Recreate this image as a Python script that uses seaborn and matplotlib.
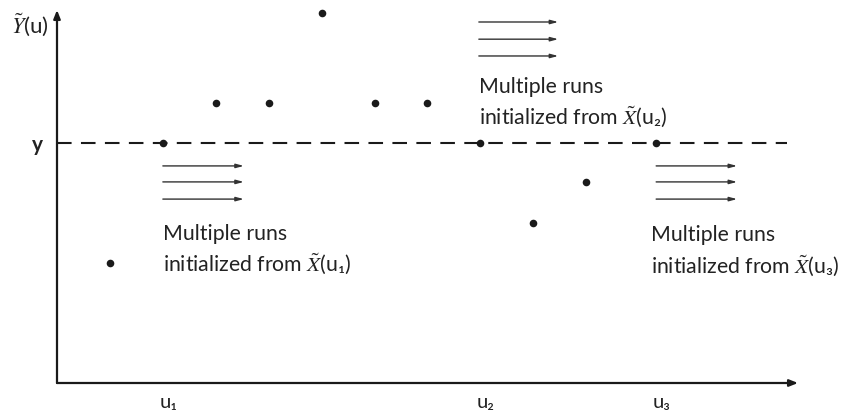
import matplotlib
matplotlib.use("Agg")
import matplotlib.pyplot as plt
import seaborn as sns

# sample points (u index, response value)
point_u = [1, 2, 3, 4, 5, 6, 7, 8, 9, 10, 11.32]
point_y = [3.0, 6.0, 7.0, 7.0, 9.25, 7.0, 7.0, 6.0, 4.0, 5.03, 6.0]

# target level
y_target = 6.0
dash_end = 13.8

# groups of runs: start u, end u, arrow heights
run_starts = [2.0, 7.97, 11.32]
run_ends = [3.53, 9.47, 12.85]
run_heights = [[5.43, 5.03, 4.6], [9.03, 8.6, 8.18], [5.43, 5.03, 4.6]]

# text blocks next to each group of runs
block_x = [2.0, 7.97, 11.23]
block_y = [[3.72, 2.98], [7.4, 6.65], [3.7, 2.93]]
block_lines = [
    ["Multiple runs", r"initialized from $\tilde{X}$(u₁)"],
    ["Multiple runs", r"initialized from $\tilde{X}$(u₂)"],
    ["Multiple runs", r"initialized from $\tilde{X}$(u₃)"],
]

tick_pos = [2.1, 8.1, 11.42]
tick_labels = ["u₁", "u₂", "u₃"]

sns.set_style("white")
plt.rcParams["font.family"] = ["Lato", "DejaVu Sans"]
plt.rcParams["mathtext.fontset"] = "stix"

fig = plt.figure(figsize=(8.45, 4.11), dpi=100)
ax = fig.add_axes([57 / 845, 28 / 411, 741 / 845, 373 / 411])
ax.set_xlim(0, 14)
ax.set_ylim(0, 9.33)

for s in ax.spines.values():
    s.set_visible(False)

ink = "#1a1a1a"
# axes with arrow heads
ax.annotate("", xy=(1, 0), xytext=(0, 0), xycoords="axes fraction",
            arrowprops=dict(arrowstyle="-|>,head_length=0.5,head_width=0.2",
                            lw=1.6, color=ink, shrinkA=0, shrinkB=0))
ax.annotate("", xy=(0, 1), xytext=(0, 0), xycoords="axes fraction",
            arrowprops=dict(arrowstyle="-|>,head_length=0.5,head_width=0.2",
                            lw=1.6, color=ink, shrinkA=0, shrinkB=0))

ax.hlines(y_target, 0, dash_end, colors=ink, linestyles=(0, (7, 4.5)), lw=1.5)

sns.scatterplot(x=point_u, y=point_y, color=ink, s=30, linewidth=0, ax=ax,
                zorder=5, clip_on=False)

for x0, x1, ys in zip(run_starts, run_ends, run_heights):
    for yy in ys:
        ax.annotate("", xy=(x1, yy), xytext=(x0, yy),
                    arrowprops=dict(arrowstyle="-|>,head_length=0.45,head_width=0.12",
                                    lw=1.0, color="#333333",
                                    shrinkA=0, shrinkB=0))

for bx, bys, lines in zip(block_x, block_y, block_lines):
    for yy, txt in zip(bys, lines):
        ax.text(bx, yy, txt, ha="left", va="center", fontsize=15.3,
                color="#222222")

ax.set_xticks(tick_pos)
ax.set_xticklabels(tick_labels, fontsize=14.5, color="#222222")
ax.tick_params(axis="x", length=0, pad=8)
ax.set_yticks([y_target])
ax.set_yticklabels(["y"], fontsize=15, fontweight="bold", color="#222222")
ax.tick_params(axis="y", length=0, pad=10)

ax.set_ylabel(r"$\tilde{Y}$(u)", rotation=0, fontsize=16, color="#222222")
ax.yaxis.set_label_coords(-0.037, 0.925)

fig.savefig("out.png", dpi=100)
